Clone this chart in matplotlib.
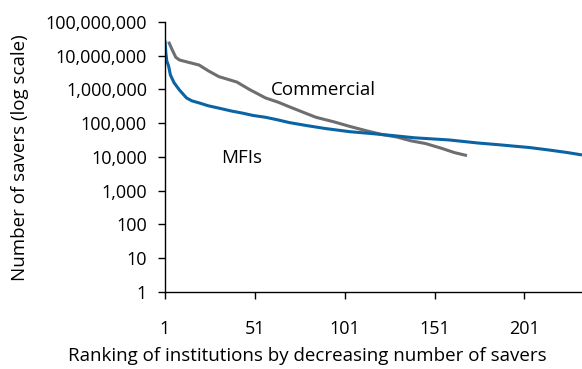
import matplotlib
matplotlib.use("Agg")
import matplotlib.pyplot as plt
from matplotlib.ticker import FuncFormatter, FixedLocator

plt.rcParams['font.family'] = ['Open Sans', 'DejaVu Sans']

# Savers per institution, ranked from largest to smallest
mfi_rank = [1, 1.5, 2, 3, 4, 6, 9, 13, 16, 20, 25, 31, 38, 44, 50, 57, 64, 70,
            80, 90, 104, 115, 128, 140, 159, 175, 187, 195, 204, 215, 225, 233]
mfi_savers = [2.8e7, 1.2e7, 7e6, 5e6, 2.7e6, 1.6e6, 9.7e5, 5.6e5, 4.6e5, 4e5,
              3.3e5, 2.8e5, 2.3e5, 2e5, 1.7e5, 1.5e5, 1.25e5, 1.05e5, 8.5e4,
              7e4, 5.6e4, 5e4, 4.3e4, 3.7e4, 3.2e4, 2.6e4, 2.3e4, 2.1e4, 1.9e4,
              1.6e4, 1.35e4, 1.15e4]

com_rank = [3, 5, 7, 9, 13, 20, 25, 31, 41, 48, 57, 64, 70, 78, 85, 95, 104,
            113, 122, 130, 138, 146, 155, 162, 169]
com_savers = [2.6e7, 1.5e7, 9e6, 7.5e6, 6.6e6, 5.3e6, 3.6e6, 2.4e6, 1.66e6,
              1e6, 5.6e5, 4.2e5, 3.1e5, 2.1e5, 1.5e5, 1.1e5, 8e4, 6e4, 4.6e4,
              3.9e4, 3e4, 2.5e4, 1.8e4, 1.35e4, 1.1e4]

x_ticks = [1, 51, 101, 151, 201]
y_ticks = [1, 10, 100, 1000, 10000, 100000, 1000000, 10000000, 100000000]

blue = '#0a64a4'
grey = '#6d6e71'

fig = plt.figure(figsize=(5.82, 3.69), dpi=100)
ax = fig.add_axes([0.2835, 0.2087, 0.7165, 0.7317])

ax.plot(com_rank, com_savers, color=grey, lw=2.2, solid_capstyle='butt')
ax.plot(mfi_rank, mfi_savers, color=blue, lw=2.2, solid_capstyle='butt')

ax.set_yscale('log')
ax.set_ylim(1, 1e8)
ax.set_xlim(1, 233)
ax.yaxis.set_major_locator(FixedLocator(y_ticks))
ax.yaxis.set_minor_locator(FixedLocator([]))
ax.yaxis.set_major_formatter(FuncFormatter(lambda v, p: f"{int(round(v)):,}"))
ax.set_xticks(x_ticks)

for s in ('top', 'right'):
    ax.spines[s].set_visible(False)
for s in ('left', 'bottom'):
    ax.spines[s].set_linewidth(1.0)
    ax.spines[s].set_color('black')

ax.tick_params(axis='both', labelsize=13, length=5, width=1.0, colors='black')
ax.tick_params(axis='x', pad=15)
ax.tick_params(axis='y', pad=8)

fig.text(20 / 582, 1 - 158 / 369, 'Number of savers (log scale)', fontsize=13.5,
         rotation=90, ha='center', va='center')
fig.text(307 / 582, 1 - 356 / 369,
         'Ranking of institutions by decreasing number of savers',
         fontsize=13.5, ha='center', va='center')

ax.text(60, 6.9e5, 'Commercial', fontsize=13.5, ha='left', va='baseline')
ax.text(32.5, 6.6e3, 'MFIs', fontsize=13.5, ha='left', va='baseline')

fig.savefig('out.png', dpi=100)
